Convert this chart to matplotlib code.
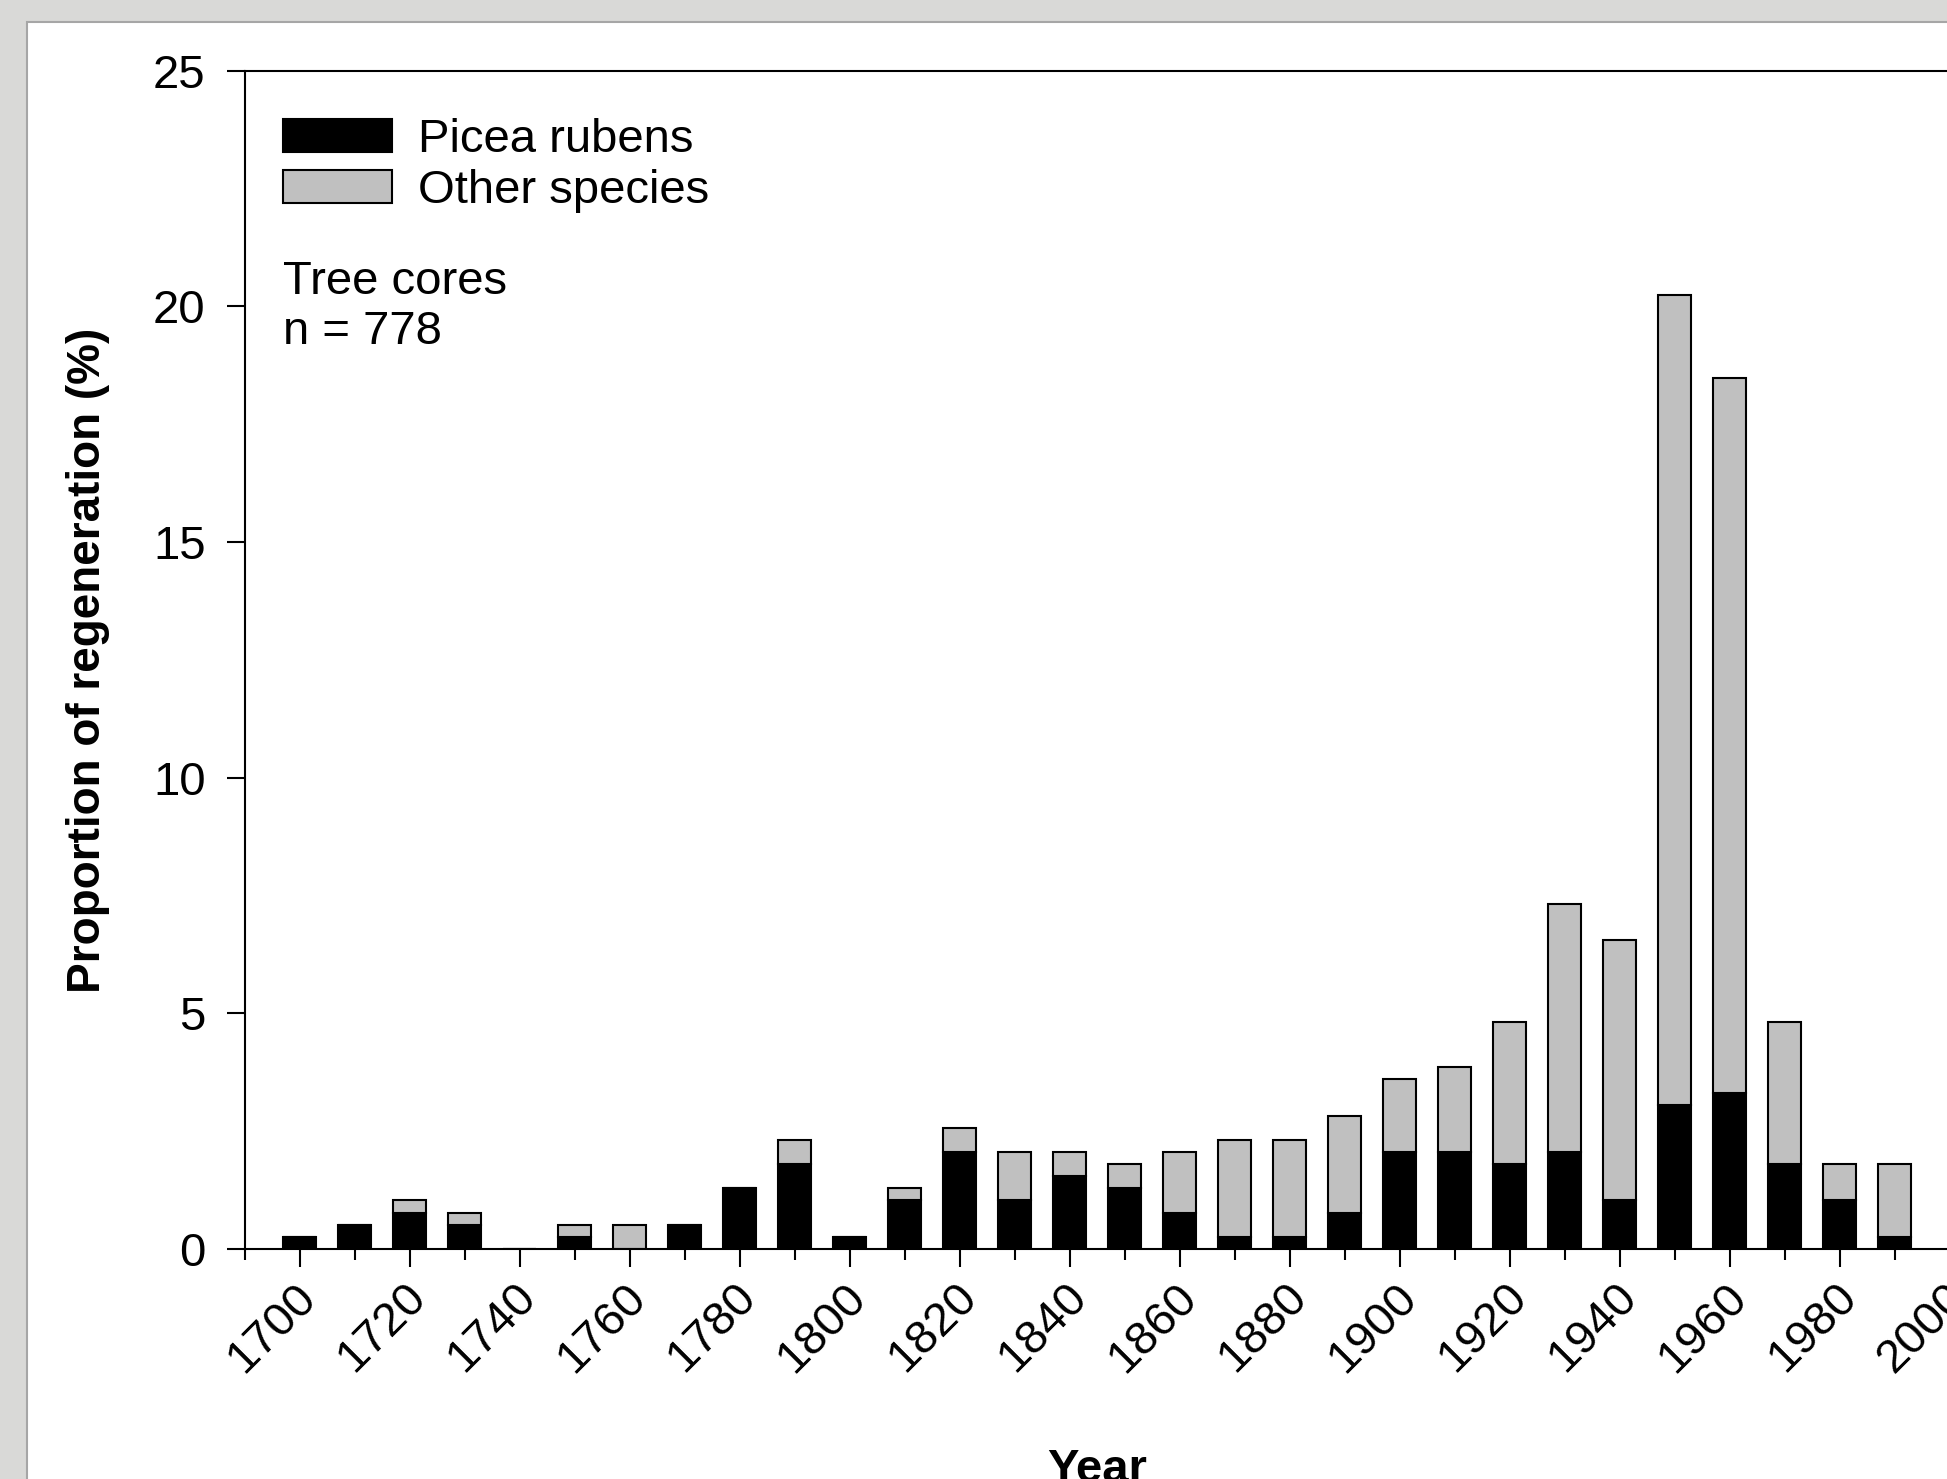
import numpy as np
import matplotlib
matplotlib.use("Agg")
import matplotlib.pyplot as plt
from matplotlib.patches import Rectangle
from matplotlib.ticker import MultipleLocator
from matplotlib.transforms import ScaledTranslation

plt.rcParams["font.family"] = ["Liberation Sans", "DejaVu Sans"]

# decade of establishment, % of all cores
years = [1700, 1710, 1720, 1730, 1740, 1750, 1760, 1770, 1780, 1790,
         1800, 1810, 1820, 1830, 1840, 1850, 1860, 1870, 1880, 1890,
         1900, 1910, 1920, 1930, 1940, 1950, 1960, 1970, 1980, 1990]
picea = [0.26, 0.51, 0.77, 0.51, 0.00, 0.26, 0.00, 0.51, 1.29, 1.80,
         0.26, 1.03, 2.06, 1.03, 1.54, 1.29, 0.77, 0.26, 0.26, 0.77,
         2.06, 2.06, 1.80, 2.06, 1.03, 3.06, 3.32, 1.80, 1.03, 0.26]
other = [0.00, 0.00, 0.26, 0.26, 0.00, 0.25, 0.51, 0.00, 0.00, 0.51,
         0.00, 0.26, 0.51, 1.03, 0.52, 0.51, 1.29, 2.05, 2.05, 2.06,
         1.54, 1.80, 3.02, 5.27, 5.53, 17.19, 15.16, 3.02, 0.77, 1.54]

W, H = 1947, 1479
fig = plt.figure(figsize=(W / 100, H / 100), dpi=100, facecolor="#d9d9d7")

# white panel behind the plot
panel = Rectangle((27 / W, -0.05), 1.2, 1 - 22 / H + 0.05,
                  transform=fig.transFigure, facecolor="white",
                  edgecolor="#a6a6a6", lw=1.5, zorder=0)
fig.add_artist(panel)

left, top, bottom = 244.6, 70.8, 1249.0
ax = fig.add_axes([left / W, 1 - bottom / H, (1950 - left) / W, (bottom - top) / H])
ax.set_facecolor("white")

x = np.array(years)
b1 = ax.bar(x, picea, width=6, color="black", edgecolor="black", lw=1.5,
            label="Picea rubens")
b2 = ax.bar(x, other, width=6, bottom=picea, color="#c0c0c0",
            edgecolor="black", lw=1.5, label="Other species")

ax.set_xlim(1690, 2000)
ax.set_ylim(0, 25)
ax.xaxis.set_major_locator(MultipleLocator(20))
ax.xaxis.set_minor_locator(MultipleLocator(10))
ax.yaxis.set_major_locator(MultipleLocator(5))

for s in ax.spines.values():
    s.set_linewidth(1.5)
ax.tick_params(axis="both", which="major", direction="out", length=13,
               width=1.5, labelsize=34, pad=15)
ax.tick_params(axis="x", which="minor", direction="out", length=8, width=1.5)
ax.tick_params(axis="x", which="major", pad=17)

shift = ScaledTranslation(10 / 100, 0, fig.dpi_scale_trans)
for lab in ax.get_xticklabels():
    lab.set_rotation(45)
    lab.set_ha("right")
    lab.set_va("center")
    lab.set_rotation_mode("anchor")
    lab.set_transform(lab.get_transform() + shift)

ax.set_ylabel("Proportion of regeneration (%)", fontsize=33,
              fontweight="bold", va="center", ha="center")
ax.yaxis.set_label_coords(-0.092, 0.5)
ax.set_xlabel("Year", fontsize=34, fontweight="bold", va="baseline")
ax.xaxis.set_label_coords(0.5, -0.198)

ax.legend(handles=[b1, b2], loc="upper left", bbox_to_anchor=(0.0225, 0.960),
          frameon=False, fontsize=34, borderpad=0, borderaxespad=0,
          handlelength=2.3, handleheight=0.72, handletextpad=0.55,
          labelspacing=0.15)

ax.text(0.0225, 0.839, "Tree cores\nn = 778", transform=ax.transAxes,
        fontsize=34, va="top", ha="left", linespacing=1.17)

fig.savefig("out.png", dpi=100, facecolor=fig.get_facecolor())
